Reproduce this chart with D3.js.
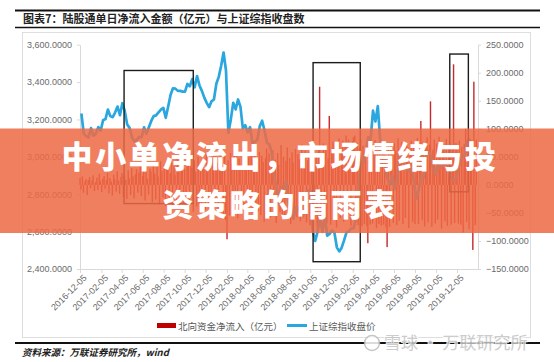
<!DOCTYPE html>
<html>
<head>
<meta charset="utf-8">
<script src="https://cdn.jsdelivr.net/npm/d3@7"></script>
<style>
  body { margin: 0; background: #fff; }
  text { font-family: "Liberation Sans", Arial, sans-serif; }
  .cjk { font-family: "Noto Sans CJK SC", sans-serif; }
</style>
</head>
<body>
<div id="chart"></div>
<script>
// 上证综指 weekly close, first week ending 2016-12-09
const closeStart = new Date(2016, 11, 9);
const closeValues = [
  3232, 3123, 3110, 3104,
  3154, 3113, 3123, 3159, 3140, 3196, 3202, 3253,
  3218, 3212, 3237, 3269, 3223, 3287, 3246, 3173, 3155,
  3104, 3083, 3090, 3107, 3105, 3158, 3123, 3158, 3192,
  3218, 3222, 3238, 3253, 3262, 3209, 3268, 3331,
  3367, 3365, 3353, 3353, 3349, 3349, 3390, 3378, 3416,
  3372, 3432, 3382, 3353, 3317, 3289, 3266, 3297, 3307,
  3391, 3428, 3487, 3558, 3462, 3129, 3199, 3289,
  3254, 3307, 3269, 3152, 3169, 3131, 3159, 3071, 3082,
  3091, 3163, 3193, 3141, 3075, 3067, 3022, 2889, 2847,
  2747, 2831, 2829, 2873, 2740, 2795, 2669, 2730, 2725,
  2702, 2682, 2797, 2821, 2821, 2606, 2550, 2598,
  2676, 2599, 2679, 2579, 2588, 2606, 2594, 2516, 2494,
  2514, 2553, 2596, 2601, 2618, 2618, 2682, 2804,
  2994, 2969, 3021, 3104, 3091, 3247, 3189, 3271, 3086,
  3078, 2939, 2882, 2853, 2899, 2827, 2882, 3001, 2979,
  3011, 2931, 2925, 2945, 2868, 2775, 2824, 2898, 2886,
  2999, 3031, 3006, 2933, 2905, 2973, 2938, 2955,
  2958, 2964, 2891, 2885, 2871, 2912, 2968, 3005, 3005,
  3084, 3092, 3075
];

// 北向资金净流入 (亿元), two readings a week (Mon / Thu) from 2016-12-05
const flowStart = new Date(2016, 11, 5);
const flowValues = [
  12, -8, 15, -14, 6, 10, -18, 9, 14, -6,
  8, 17, -11, 5, 13, -9, 20, 7, -13, 11,
  16, -7, 9, 22, -15, 12, 6, -19, 18, 10,
  -12, 24, 8, -16, 14, 21, -22, 17, 9, -25,
  26, 12, -18, 30, 15, -24, 19, 28, -14, 22,
  33, -20, 16, 27, -28, 35, 11, -17, 29, 24,
  -31, 38, 20, -26, 32, 15, -35, 42, 25, -22,
  36, -38, 28, 45, -30, 21, 40, -42, 33, 18,
  -36, 47, 26, -40, 38, 52, -33, 29, -45, 41,
  35, -28, 55, 30, -48, 44, 24, -39, 50, -34,
  37, -50, 42, 28, -44, 58, 31, -37, 46, -52,
  48, 60, -35, 54, 39, -46, 62, 45, 36, -58,
  51, -63, -97, 44, -55, 57, 38, -49, 61, -42,
  53, -60, 47, 35, -52, 66, -45, 40, 58, -56,
  49, -38, 63, -50, 44, 70, -61, 37, -47, 59,
  -54, 52, 41, -66, 48, 65, -43, 56, -59, 39,
  62, -51, 45, -68, 57, 36, -48, 71, -57, 50,
  -62, 43, 67, -53, 48, -70, 58, 40, -49, 64,
  -58, 55, 46, -65, 72, -52, 49, 61, -67, 44,
  58, -72, 53, -46, 69, -61, 50, -75, 66, 175,
  -64, 57, 74, -58, 62, -69, 48, 123, -71, 60,
  77, -62, 55, -76, 68, 83, -59, 64, 79, -66,
  72, 88, -57, 81, 69, -73, 78, 85, 88, -68,
  75, -72, 66, 82, -74, 70, -70, 61, -73, -104,
  64, -71, 73, -69, 58, 80, -77, 62, -70, 67,
  -73, 59, -71, 71, -76, -111, 63, -75, 70, 56,
  -68, 74, 61, -72, 83, -64, 57, 76, -70, 65,
  -59, 71, 68, -77, 60, 79, -66, 73, -70, 58,
  84, -70, 66, 114, -63, 77, -74, 69, 85, -67,
  72, 149, -75, 63, 81, -69, 74, -62, 86, 60,
  -78, 67, 70, -65, 82, -73, 64, 76, -71, 71,
  215, -68, 75, 62, -69, 79, -71, 68, -85, 73,
  100, -66, 77, -79, 70, 64, -116, 184, -72, 81
];

const xTickLabels = [
  "2016-12-05", "2017-02-05", "2017-04-05", "2017-06-05", "2017-08-05",
  "2017-10-05", "2017-12-05", "2018-02-05", "2018-04-05", "2018-06-05",
  "2018-08-05", "2018-10-05", "2018-12-05", "2019-02-05", "2019-04-05",
  "2019-06-05", "2019-08-05", "2019-10-05", "2019-12-05"
];
const leftTicks = [2400, 2600, 2800, 3000, 3200, 3400, 3600];
const rightTicks = [-150, -100, -50, 0, 50, 100, 150, 200, 250];

// highlighted periods (dates, left-axis values)
const boxes = [
  { from: "2017-04-12", to: "2017-10-30", hi: 3462, lo: 2750 },
  { from: "2018-10-13", to: "2019-02-27", hi: 3504, lo: 2439 },
  { from: "2019-11-14", to: "2020-01-07", hi: 3550, lo: 2813 }
];

const legendItems = ["北向资金净流入（亿元）", "上证综指收盘价"];

const W = 554, H = 362;
const plot = { left: 80, right: 478, top: 44.7, bottom: 269 };
const parse = d3.timeParse("%Y-%m-%d");

const svg = d3.select("#chart").append("svg")
    .attr("width", W)
    .attr("height", H);

const x = d3.scaleTime()
    .domain([parse("2016-12-05"), parse("2020-02-04")])
    .range([plot.left, plot.right]);
const yL = d3.scaleLinear().domain([2400, 3600]).range([plot.bottom, plot.top]);
const yR = d3.scaleLinear().domain([-150, 250]).range([plot.bottom, plot.top]);

const closes = closeValues.map((v, i) => ({ date: d3.timeWeek.offset(closeStart, i), value: v }));
const flows = flowValues.map((v, i) => ({
  date: d3.timeDay.offset(d3.timeWeek.offset(flowStart, Math.floor(i / 2)), (i % 2) * 3),
  value: v
}));

// chart frame
svg.append("rect")
    .attr("x", 22.5).attr("y", 32.5)
    .attr("width", 508).attr("height", 305)
    .attr("fill", "none").attr("stroke", "#dedede");

// axes
const gx = svg.append("g")
    .attr("transform", `translate(0,${plot.bottom})`)
    .call(d3.axisBottom(x)
        .tickValues(xTickLabels.map(parse))
        .tickFormat(d3.timeFormat("%Y-%m-%d"))
        .tickSize(4).tickSizeOuter(0));
gx.selectAll("text")
    .attr("transform", "rotate(-45)")
    .attr("text-anchor", "end")
    .attr("dx", "-0.2em").attr("dy", "0.5em");

const gl = svg.append("g")
    .attr("transform", `translate(${plot.left},0)`)
    .call(d3.axisLeft(yL).tickValues(leftTicks).tickFormat(d3.format(",.4f"))
        .tickSize(3).tickSizeOuter(0).tickPadding(5));

const gr = svg.append("g")
    .attr("transform", `translate(${plot.right},0)`)
    .call(d3.axisRight(yR).tickValues(rightTicks).tickFormat(d3.format(".4f"))
        .tickSize(3).tickSizeOuter(0).tickPadding(5));

[gx, gl, gr].forEach(g => {
  g.select(".domain").attr("stroke", "#d9d9d9");
  g.selectAll(".tick line").attr("stroke", "#d9d9d9");
  g.selectAll("text").attr("fill", "#6a6a6a").attr("font-size", 9);
});

// net inflow bars
svg.append("g")
  .selectAll("rect")
  .data(flows)
  .join("rect")
    .attr("x", d => x(d.date) - 0.7)
    .attr("width", 1.4)
    .attr("y", d => yR(Math.max(0, d.value)))
    .attr("height", d => Math.abs(yR(d.value) - yR(0)))
    .attr("fill", "#c5282c");

// index line
svg.append("path")
    .datum(closes)
    .attr("fill", "none")
    .attr("stroke", "#2aa7de")
    .attr("stroke-width", 2.7)
    .attr("stroke-linejoin", "round")
    .attr("d", d3.line().x(d => x(d.date)).y(d => yL(d.value)));

// highlight boxes
svg.append("g")
  .selectAll("rect")
  .data(boxes)
  .join("rect")
    .attr("x", d => x(parse(d.from)))
    .attr("y", d => yL(d.hi))
    .attr("width", d => x(parse(d.to)) - x(parse(d.from)))
    .attr("height", d => yL(d.lo) - yL(d.hi))
    .attr("fill", "none")
    .attr("stroke", "#1c1c1c")
    .attr("stroke-width", 1.4);

// legend
const lg = svg.append("g").attr("class", "cjk").attr("font-size", 9.5).attr("fill", "#595959");
lg.append("rect").attr("x", 157).attr("y", 323).attr("width", 19).attr("height", 5).attr("fill", "#c00000");
lg.append("text").attr("class", "cjk").attr("x", 178).attr("y", 329.5).text(legendItems[0]);
lg.append("line").attr("x1", 287).attr("x2", 307).attr("y1", 325.5).attr("y2", 325.5)
    .attr("stroke", "#2aa7de").attr("stroke-width", 3);
lg.append("text").attr("class", "cjk").attr("x", 309).attr("y", 329.5).text(legendItems[1]);

// title block
svg.append("line").attr("x1", 15).attr("x2", 540).attr("y1", 10.5).attr("y2", 10.5)
    .attr("stroke", "#111").attr("stroke-width", 2);
svg.append("text").attr("class", "cjk")
    .attr("x", 23).attr("y", 23)
    .attr("font-size", 11).attr("font-weight", 700).attr("fill", "#222")
    .text("图表7：陆股通单日净流入金额（亿元）与上证综指收盘数");
svg.append("line").attr("x1", 15).attr("x2", 540).attr("y1", 27.5).attr("y2", 27.5)
    .attr("stroke", "#111").attr("stroke-width", 1.5);

// source
svg.append("line").attr("x1", 15).attr("x2", 540).attr("y1", 343).attr("y2", 343)
    .attr("stroke", "#111").attr("stroke-width", 2);
svg.append("text").attr("class", "cjk")
    .attr("x", 22).attr("y", 356)
    .attr("font-size", 9.5).attr("font-weight", 700).attr("font-style", "italic").attr("fill", "#222")
    .text("资料来源：万联证券研究所，wind");

// watermark
const wm = svg.append("g").attr("opacity", 0.85);
wm.append("circle").attr("cx", 372).attr("cy", 343).attr("r", 7.5)
    .attr("fill", "#fff").attr("stroke", "#bdbdbd").attr("stroke-width", 1.5);
wm.append("text").attr("class", "cjk")
    .attr("x", 384).attr("y", 349)
    .attr("font-size", 17).attr("fill", "#c4c4c4")
    .attr("stroke", "#fff").attr("stroke-width", 2).attr("paint-order", "stroke")
    .text("雪球 · 万联研究所");

// headline banner
svg.append("rect")
    .attr("x", 0).attr("y", 128.5)
    .attr("width", W).attr("height", 104.5)
    .attr("fill", "#ee6a45").attr("opacity", 0.86);
const headline = ["中小单净流出，市场情绪与投", "资策略的晴雨表"];
svg.append("g")
  .selectAll("text")
  .data(headline)
  .join("text")
    .attr("class", "cjk")
    .attr("x", 280)
    .attr("y", (d, i) => 168 + i * 48)
    .attr("text-anchor", "middle")
    .attr("font-size", 31)
    .attr("font-weight", 900)
    .attr("letter-spacing", 2.6)
    .attr("fill", "#fff")
    .text(d => d);
</script>
</body>
</html>
